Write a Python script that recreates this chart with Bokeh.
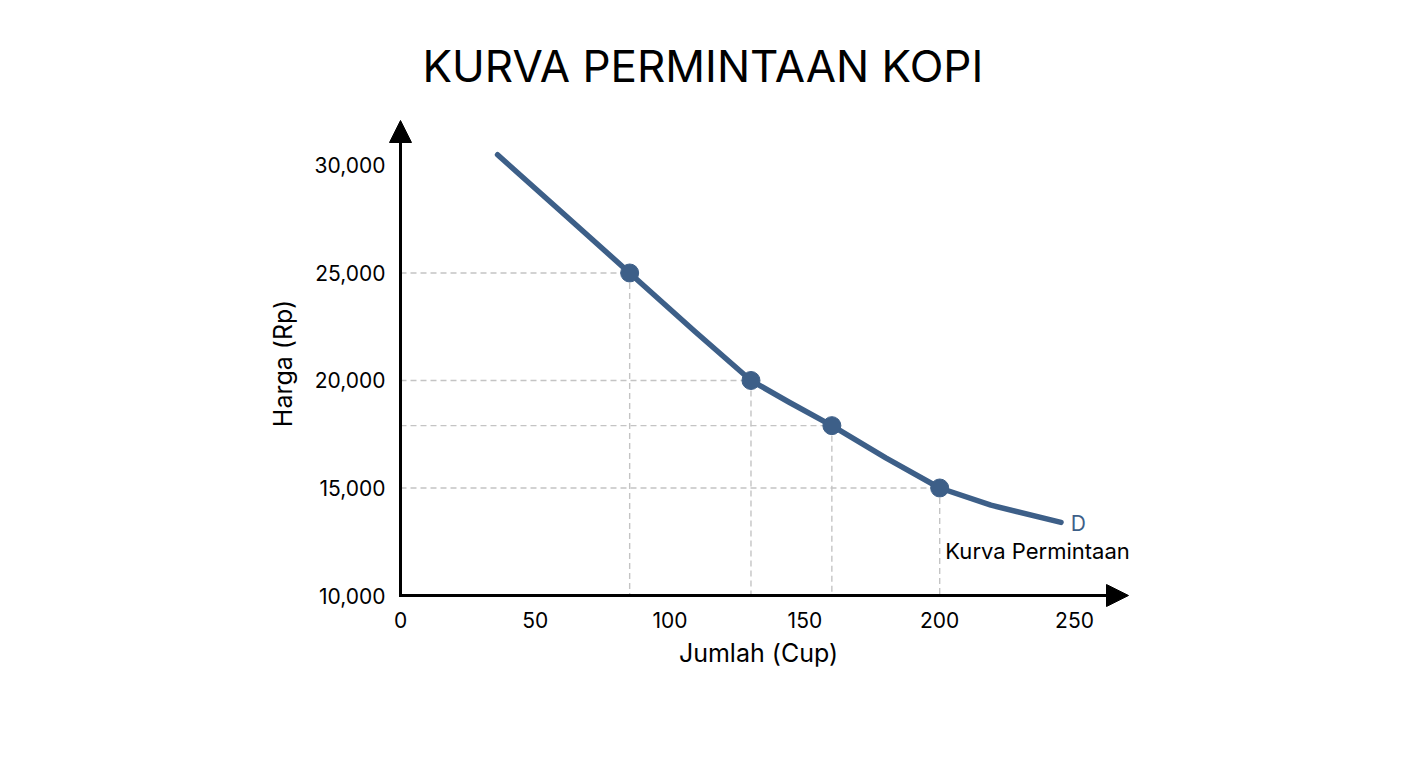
from bokeh.plotting import figure
from bokeh.models import (Range1d, FixedTicker, NumeralTickFormatter, Arrow,
                          NormalHead, Label, Title)
from bokeh.embed import file_html
from bokeh.resources import INLINE

# ---- data ----
curve_qty = [36, 61, 85, 109, 130, 144, 160, 180, 200, 219, 245]
curve_price = [30500, 27700, 25000, 22300, 20000, 19000, 17900, 16400, 15000, 14200, 13400]

point_qty = [85, 130, 160, 200]
point_price = [25000, 20000, 17900, 15000]

x_ticks = [0, 50, 100, 150, 200, 250]
y_ticks = [10000, 15000, 20000, 25000, 30000]

title_text = "KURVA PERMINTAAN KOPI"
x_label = "Jumlah (Cup)"
y_label = "Harga (Rp)"
curve_tag = "D"
curve_name = "Kurva Permintaan"

# ---- styling ----
FONT = "Inter"
CURVE_COLOR = "#3d5f88"
GRID_COLOR = "#c4c4c4"

PX_PER_X = 2.696          # pixels per cup
UNITS_PER_PX_Y = 46.51    # rupiah per pixel
LEFT, RIGHT, TOP, BOTTOM = 386, 1130, 118, 608
X0 = -(400 - LEFT) / PX_PER_X
X1 = (RIGHT - 400) / PX_PER_X
Y0 = 10000 - (BOTTOM - 595) * UNITS_PER_PX_Y
Y1 = 10000 + (595 - TOP) * UNITS_PER_PX_Y

p = figure(width=1408, height=768, output_backend="svg", toolbar_location=None,
           x_range=Range1d(X0, X1), y_range=Range1d(Y0, Y1),
           min_border_left=LEFT, min_border_right=1408 - RIGHT,
           min_border_top=TOP, min_border_bottom=768 - BOTTOM)
p.outline_line_color = None
p.background_fill_color = "white"
p.border_fill_color = "white"
p.grid.visible = False

for ax in (p.xaxis[0], p.yaxis[0]):
    ax.axis_line_color = None
    ax.major_tick_line_color = None
    ax.minor_tick_line_color = None
    ax.major_tick_out = 0
    ax.major_tick_in = 0
    ax.major_label_text_font = FONT
    ax.major_label_text_font_size = "21px"
    ax.major_label_text_color = "black"
    ax.axis_label_text_font = FONT
    ax.axis_label_text_font_size = "25px"
    ax.axis_label_text_font_style = "normal"
    ax.axis_label_text_color = "black"

p.xaxis.ticker = FixedTicker(ticks=x_ticks)
p.yaxis.ticker = FixedTicker(ticks=y_ticks)
p.yaxis.formatter = NumeralTickFormatter(format="0,0")
p.xaxis.major_label_standoff = 3
p.yaxis.major_label_standoff = 1
p.xaxis.axis_label = x_label
p.yaxis.axis_label = y_label
p.xaxis.axis_label_standoff = 7
p.yaxis.axis_label_standoff = 14

title = Title(text=title_text, text_font=FONT, text_font_size="44px",
              text_font_style="normal", text_color="black", align="left",
              offset=36, standoff=52)
p.add_layout(title, "above")

# dashed guide lines
n = len(point_qty)
p.segment(x0=[0] * n, y0=point_price, x1=point_qty, y1=point_price,
          line_color=GRID_COLOR, line_width=1.4, line_dash="6 4")
p.segment(x0=point_qty, y0=point_price, x1=point_qty, y1=[10000] * n,
          line_color=GRID_COLOR, line_width=1.4, line_dash="6 4")

# axes with arrows
head_x = NormalHead(size=22, fill_color="black", line_color="black")
head_y = NormalHead(size=22, fill_color="black", line_color="black")
p.add_layout(Arrow(end=head_x, x_start=-0.55, y_start=10000,
                   x_end=(1128 - 400) / PX_PER_X, y_end=10000,
                   line_color="black", line_width=3))
p.add_layout(Arrow(end=head_y, x_start=0, y_start=10000 - 1.5 * UNITS_PER_PX_Y,
                   x_end=0, y_end=10000 + (595 - 120) * UNITS_PER_PX_Y,
                   line_color="black", line_width=3))

# demand curve
p.line(curve_qty, curve_price, line_color=CURVE_COLOR, line_width=5.5,
       line_cap="round", line_join="round")
p.scatter(point_qty, point_price, size=18, fill_color=CURVE_COLOR,
          line_color=CURVE_COLOR)

# labels
p.add_layout(Label(x=248.6, y=13350, text=curve_tag, text_font=FONT,
                   text_font_size="21px", text_color=CURVE_COLOR,
                   text_align="left", text_baseline="middle"))
p.add_layout(Label(x=236.3, y=12050, text=curve_name, text_font=FONT,
                   text_font_size="22px", text_color="black",
                   text_align="center", text_baseline="middle"))

open("out.html", "w").write(file_html(p, INLINE))
